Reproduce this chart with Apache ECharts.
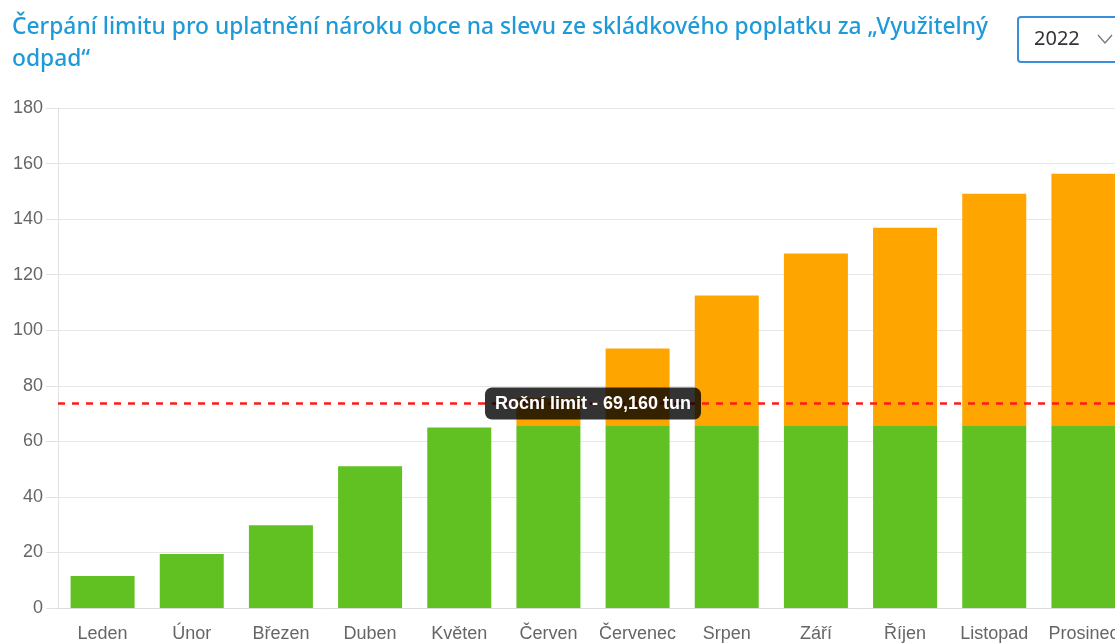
<!DOCTYPE html>
<html>
<head>
<meta charset="utf-8">
<script src="https://cdn.jsdelivr.net/npm/echarts@6/dist/echarts.min.js"></script>
<style>
  html, body { margin: 0; padding: 0; overflow: hidden; background: #fff; }
  #chart { width: 1140px; height: 643px; }
</style>
</head>
<body>
<div id="chart"></div>
<script>
const months = ["Leden", "Únor", "Březen", "Duben", "Květen", "Červen", "Červenec", "Srpen", "Září", "Říjen", "Listopad", "Prosinec"];
// tonnage counted inside the discount limit (green) and over it (orange)
const withinLimit = [11.5, 19.4, 29.8, 51.0, 65.0, 65.8, 65.8, 65.8, 65.8, 65.8, 65.8, 65.8];
const overLimit = [0, 0, 0, 0, 0, 9.7, 27.6, 46.7, 61.8, 71.1, 83.3, 90.5];
const limitLine = 73.6;
const limitText = "Roční limit - 69,160 tun";
const yTicks = { min: 0, max: 180, interval: 20 };
const titleText = "Čerpání limitu pro uplatnění nároku obce na slevu ze skládkového poplatku za „Využitelný\nodpad“";
const selectedYear = "2022";

const chart = echarts.init(document.getElementById("chart"));
chart.setOption({
  animation: false,
  textStyle: { fontFamily: "Liberation Sans, Arial, sans-serif" },
  title: {
    text: titleText,
    left: 7,
    top: 7,
    textStyle: {
      fontFamily: "Noto Sans, sans-serif",
      fontSize: 22.8,
      fontWeight: 500,
      color: "#1e9ad9",
      lineHeight: 32
    }
  },
  graphic: [
    {
      type: "rect",
      left: 1017,
      top: 16,
      shape: { width: 140, height: 45, r: 3 },
      style: { fill: "#fff", stroke: "#3b8fd9", lineWidth: 2 }
    },
    {
      type: "text",
      left: 1034,
      top: 29,
      style: { text: selectedYear, font: "20px Noto Sans, sans-serif", fill: "#333" }
    },
    {
      type: "polyline",
      shape: { points: [[1098, 35], [1105, 43], [1112, 35]] },
      style: { stroke: "#777", lineWidth: 1.3, fill: null }
    }
  ],
  grid: { left: 58, right: 12, top: 108, bottom: 34 },
  xAxis: {
    type: "category",
    data: months,
    axisTick: { show: false },
    axisLine: { lineStyle: { color: "#dcdcdc" } },
    axisLabel: { color: "#666", fontSize: 18, margin: 17, interval: 0, hideOverlap: false }
  },
  yAxis: {
    type: "value",
    min: yTicks.min,
    max: yTicks.max,
    interval: yTicks.interval,
    axisLine: { show: true, lineStyle: { color: "#e2e2e2" } },
    axisTick: { show: true, length: 12, lineStyle: { color: "#e2e2e2" } },
    splitLine: { lineStyle: { color: "#e6e6e6" } },
    axisLabel: { color: "#666", fontSize: 18, margin: 15 }
  },
  series: [
    {
      name: "V limitu",
      type: "bar",
      stack: "total",
      barWidth: 64,
      data: withinLimit,
      itemStyle: { color: "#62c122" }
    },
    {
      name: "Nad limit",
      type: "bar",
      stack: "total",
      barWidth: 64,
      data: overLimit,
      itemStyle: { color: "#ffa500" },
      markLine: {
        silent: true,
        symbol: "none",
        data: [{ yAxis: limitLine }],
        lineStyle: { color: "#ff1a1a", width: 2.5, type: [7, 7] },
        label: {
          position: "middle",
          offset: [0, 21],
          formatter: limitText,
          color: "#fff",
          fontSize: 18,
          fontWeight: "bold",
          backgroundColor: "rgba(0,0,0,0.8)",
          padding: [7, 10],
          borderRadius: 7
        }
      }
    }
  ]
});
</script>
</body>
</html>
